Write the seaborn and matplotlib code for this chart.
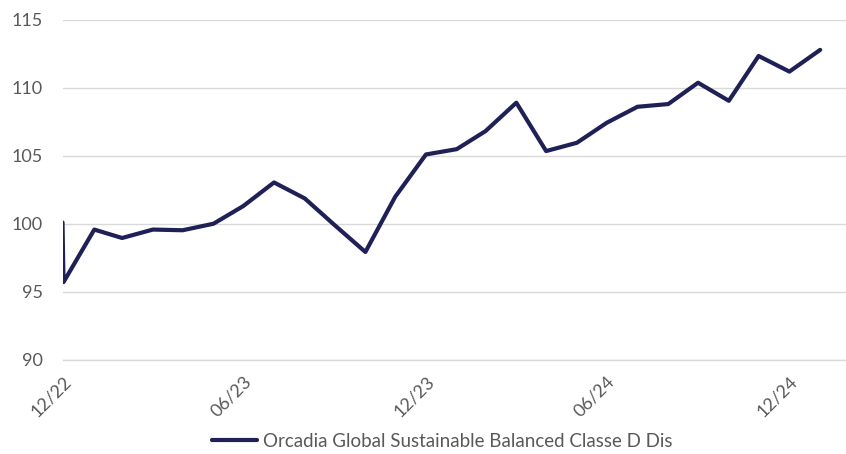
import pandas as pd
import seaborn as sns
import matplotlib.pyplot as plt
import matplotlib.dates as mdates
from matplotlib.ticker import FixedLocator

# monthly values (base 100)
dates = ["2022-12-30", "2022-12-31",
         "2023-01-31", "2023-02-28", "2023-03-31", "2023-04-30", "2023-05-31", "2023-06-30",
         "2023-07-31", "2023-08-31", "2023-09-30", "2023-10-31", "2023-11-30", "2023-12-31",
         "2024-01-31", "2024-02-29", "2024-03-31", "2024-04-30", "2024-05-31", "2024-06-30",
         "2024-07-31", "2024-08-31", "2024-09-30", "2024-10-31", "2024-11-30", "2024-12-31",
         "2025-01-31"]
values = [100.1, 95.7,
          99.57, 98.95, 99.57, 99.52, 100.0, 101.3,
          103.04, 101.86, 99.9, 97.92, 101.98, 105.1,
          105.49, 106.82, 108.91, 105.35, 105.96, 107.43,
          108.61, 108.81, 110.38, 109.05, 112.35, 111.2,
          112.8]
series_name = "Orcadia Global Sustainable Balanced Classe D Dis"
tick_dates = ["2022-12-31", "2023-06-30", "2023-12-31", "2024-06-30", "2024-12-31"]

df = pd.DataFrame({"Date": pd.to_datetime(dates), "Value": values, "Fund": series_name})

sns.set_theme(style="white")
plt.rcParams['font.family'] = ['Lato', 'DejaVu Sans']
grey = "#595959"

fig = plt.figure(figsize=(8.46, 4.54), dpi=100)
ax = fig.add_axes([0.0739, 0.208, 0.9261, 0.748])

sns.lineplot(data=df, x="Date", y="Value", hue="Fund", palette=["#1f2156"],
             estimator=None, sort=False, linewidth=3, ax=ax)

ax.set_ylim(90, 115)
ax.set_yticks([90, 95, 100, 105, 110, 115])
ax.set_xlim(pd.Timestamp("2022-12-30"), pd.Timestamp("2025-02-26"))
ax.xaxis.set_major_locator(FixedLocator(mdates.date2num(pd.to_datetime(tick_dates))))
ax.xaxis.set_major_formatter(mdates.DateFormatter("%m/%y"))

ax.grid(axis="y", color="#d9d9d9", linewidth=1)
ax.set_axisbelow(True)
for s in ["top", "right", "left"]:
    ax.spines[s].set_visible(False)
ax.spines["bottom"].set_color("#d9d9d9")
ax.spines["bottom"].set_linewidth(1)

ax.tick_params(axis="y", length=0, pad=14, labelsize=13, labelcolor=grey)
ax.tick_params(axis="x", length=5, width=1, color="#d9d9d9", pad=5, labelsize=13, labelcolor=grey)
for lbl in ax.get_xticklabels():
    lbl.set_rotation(45)
    lbl.set_ha("right")
    lbl.set_rotation_mode("anchor")

ax.set_xlabel("")
ax.set_ylabel("")
ax.legend(loc="lower center", bbox_to_anchor=(0.485, -0.315), frameon=False,
          fontsize=13.5, labelcolor=grey, handlelength=2.4, handletextpad=0.3)

fig.savefig("out.png", dpi=100)
